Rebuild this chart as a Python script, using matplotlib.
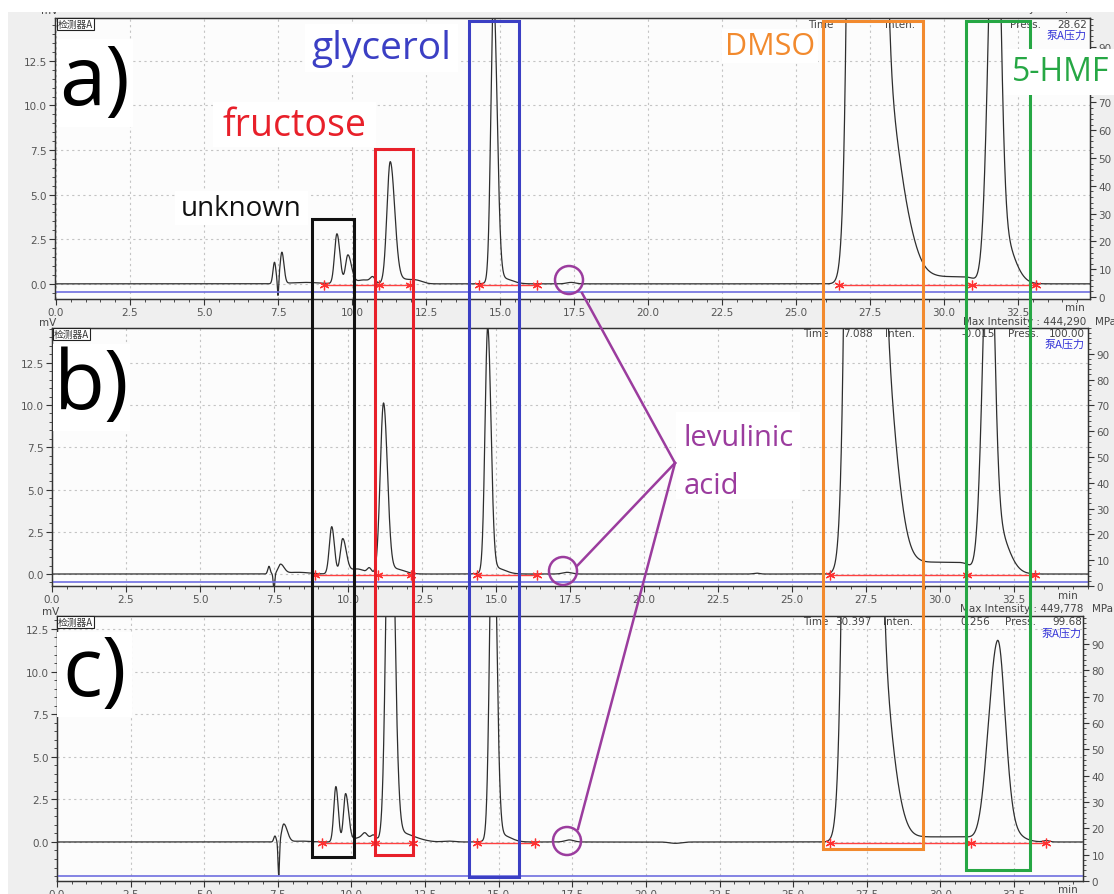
import numpy as np
import matplotlib
matplotlib.use('Agg')
import matplotlib.pyplot as plt
from matplotlib.patches import Rectangle, Circle
from matplotlib.ticker import FixedLocator, MultipleLocator

W, H = 1114, 895

# ---- data (retention time in min, signal in mV) ----
# each peak: retention time, height, left width, right width
a_rt = [7.38, 7.50, 7.63, 8.4, 9.49, 9.86, 10.4, 10.7, 11.29, 11.7, 12.2, 14.78, 15.1, 17.4,
        27.35, 27.95, 31.72, 31.9]
a_h = [1.2, -0.9, 1.75, 0.08, 2.8, 1.6, 0.22, 0.3, 6.75, 0.25, 0.15, 16.0, 0.3, 0.08,
       300.0, 11.0, 25.0, 3.0]
a_sl = [0.05, 0.02, 0.06, 0.5, 0.08, 0.08, 0.25, 0.08, 0.11, 0.3, 0.2, 0.09, 0.3, 0.15,
        0.27, 0.1, 0.21, 0.15]
a_sr = [0.05, 0.02, 0.07, 0.5, 0.1, 0.12, 0.25, 0.08, 0.15, 0.3, 0.2, 0.12, 0.3, 0.15,
        0.28, 0.58, 0.17, 0.4]
a_steps = [(28.8, 31.05, 0.4)]

b_rt = [7.33, 7.50, 7.72, 8.3, 9.45, 9.82, 10.3, 10.72, 11.2, 11.6, 14.72, 15.0, 17.4, 23.8,
        27.4, 27.95, 31.65, 31.85]
b_h = [0.45, -1.0, 0.55, 0.1, 2.8, 2.05, 0.3, 0.3, 10.0, 0.3, 14.4, 0.35, 0.1, 0.05,
       300.0, 16.0, 22.0, 3.0]
b_sl = [0.04, 0.025, 0.08, 0.4, 0.08, 0.08, 0.25, 0.07, 0.11, 0.3, 0.09, 0.3, 0.15, 0.1,
        0.27, 0.1, 0.2, 0.15]
b_sr = [0.04, 0.025, 0.12, 0.4, 0.09, 0.12, 0.25, 0.07, 0.13, 0.3, 0.11, 0.3, 0.15, 0.1,
        0.27, 0.45, 0.17, 0.4]
b_steps = [(28.5, 31.05, 0.7)]

c_rt = [7.40, 7.53, 7.70, 8.3, 9.47, 9.80, 10.4, 10.45, 10.75, 11.3, 11.7, 12.3, 13.3, 14.8, 15.1,
        17.4, 21.0, 27.31, 27.95, 31.92, 32.1, 33.6]
c_h = [0.35, -2.0, 1.05, 0.05, 3.25, 2.8, 0.3, 0.25, 0.25, 25.0, 0.5, 0.1, 0.05, 22.0, 0.4,
       0.12, -0.08, 300.0, 9.9, 11.3, 1.0, 0.08]
c_sl = [0.04, 0.025, 0.07, 0.3, 0.07, 0.07, 0.3, 0.08, 0.08, 0.12, 0.35, 0.3, 0.2, 0.1, 0.3,
        0.15, 0.2, 0.276, 0.1, 0.3, 0.15, 0.1]
c_sr = [0.04, 0.025, 0.12, 0.3, 0.08, 0.1, 0.3, 0.08, 0.08, 0.15, 0.35, 0.3, 0.2, 0.12, 0.3,
        0.15, 0.2, 0.276, 0.415, 0.26, 0.45, 0.1]
c_steps = [(28.6, 31.1, 0.3)]

# integration baselines (red) and their marks
a_marks = [9.05, 10.9, 11.96, 14.3, 16.25, 26.45, 30.95, 33.1]
b_marks = [8.89, 11.01, 12.13, 14.36, 16.39, 26.28, 30.91, 33.2]
c_marks = [9.0, 10.8, 12.09, 14.26, 16.23, 26.25, 31.04, 33.58]

# pump pressure (MPa), header texts
pressure = [1.8, 1.5, 1.9]
max_int = ['455,602', '444,290', '449,778']
time_val = ['', '7.088', '30.397']
inten_val = ['', '-0.015', '0.256']
press_val = ['28.62', '100.00', '99.68']


def trace(t, rts, hs, sls, srs, steps):
    y = np.zeros_like(t)
    for rt, h, sl, sr in zip(rts, hs, sls, srs):
        s = np.where(t < rt, sl, sr)
        y += h * np.exp(-0.5 * ((t - rt) / s) ** 2)
    for t0, t1, h in steps:
        y += h * (1 / (1 + np.exp(-(t - t0) / 0.1)) - 1 / (1 + np.exp(-(t - t1) / 0.1)))
    return y


t = np.linspace(0, 35, 14001)

# panel geometry in pixels: left, top, right, bottom
panels = [
    dict(box=(55, 19, 1090, 300), xlim=(-0.034, 34.93), ylim=(-0.85, 14.9), rlim=(-0.7, 100.4),
         peaks=(a_rt, a_h, a_sl, a_sr, a_steps), marks=a_marks, red=-0.08),
    dict(box=(52, 329, 1088, 587), xlim=(0.0, 35.0), ylim=(-0.71, 14.56), rlim=(0, 100),
         peaks=(b_rt, b_h, b_sl, b_sr, b_steps), marks=b_marks, red=-0.05),
    dict(box=(57, 617, 1083, 882), xlim=(0.0, 34.84), ylim=(-2.29, 13.26), rlim=(0, 100.7),
         peaks=(c_rt, c_h, c_sl, c_sr, c_steps), marks=c_marks, red=-0.05),
]

fig = plt.figure(figsize=(W / 100, H / 100), dpi=100)
fig.patch.set_facecolor('#efefef')

tick_col = '#555555'
for i, p in enumerate(panels):
    l, tp, r, b = p['box']
    ax = fig.add_axes([l / W, 1 - b / H, (r - l) / W, (b - tp) / H])
    ax.set_facecolor('#fcfcfc')
    y = trace(t, *p['peaks'])
    ax.plot(t, y, color='#2e2e2e', lw=0.9, zorder=3)

    # integration baselines
    m = p['marks']
    for s0, s1 in [(m[0], m[2]), (m[3], m[4]), (m[5], m[7])]:
        ax.plot([s0, s1], [p['red'], p['red']], color='#ff4040', lw=1.0, zorder=2)
    ax.plot(m, [p['red']] * len(m), ls='none', marker=(6, 2, 0), ms=7, mec='#ff3030',
            mew=0.9, zorder=4)

    ax.set_xlim(*p['xlim'])
    ax.set_ylim(*p['ylim'])
    ax.xaxis.set_major_locator(FixedLocator(np.arange(0, 32.6, 2.5)))
    ax.xaxis.set_minor_locator(MultipleLocator(0.5))
    ax.yaxis.set_major_locator(FixedLocator(np.arange(0, 12.6, 2.5)))
    ax.yaxis.set_minor_locator(MultipleLocator(0.5))
    ax.xaxis.set_major_formatter(plt.FuncFormatter(lambda v, _: f'{v:.1f}'))
    ax.yaxis.set_major_formatter(plt.FuncFormatter(lambda v, _: f'{v:.1f}'))
    ax.tick_params(which='major', length=4, width=0.8, color='#333333', labelsize=7.5,
                   labelcolor=tick_col, pad=2)
    ax.tick_params(which='minor', length=2, width=0.6, color='#333333')
    ax.grid(True, which='major', ls=(0, (2, 3)), color='#c4c4c4', lw=0.8)
    for sp in ax.spines.values():
        sp.set_color('#333333')
        sp.set_linewidth(0.9)

    rax = ax.twinx()
    rax.set_ylim(*p['rlim'])
    rax.axhline(pressure[i], color='#6f6fe0', lw=1.2, zorder=1)
    rax.yaxis.set_major_locator(FixedLocator(np.arange(0, 91, 10)))
    rax.yaxis.set_minor_locator(MultipleLocator(2))
    rax.tick_params(which='major', length=4, width=0.8, color='#333333', labelsize=7.5,
                    labelcolor=tick_col, pad=2)
    rax.tick_params(which='minor', length=2, width=0.6, color='#333333')
    for sp in rax.spines.values():
        sp.set_color('#333333')
        sp.set_linewidth(0.9)

# ---- overlay in pixel coordinates for the annotations ----
ov = fig.add_axes([0, 0, 1, 1], zorder=10)
ov.set_xlim(0, W)
ov.set_ylim(H, 0)
ov.axis('off')
ov.patch.set_alpha(0)

cjk = ['Noto Sans CJK SC', 'DejaVu Sans']
small = dict(fontsize=7.5, color='#444444', va='center')

hdr = [
    dict(mi=(1088, 9), row=25, time=(808, 843), inten=(885, 995), press=(1010, 1087), pump=36,
         mv=(50, 11), mn=(1075, 308), det=(58, 25)),
    dict(mi=(1086, 322), row=334, time=(803, 843), inten=(885, 995), press=(1008, 1085), pump=345,
         mv=(48, 323), mn=(1068, 596), det=(54, 335)),
    dict(mi=(1083, 609), row=622, time=(803, 835), inten=(883, 990), press=(1005, 1082), pump=634,
         mv=(51, 612), mn=(1068, 890), det=(58, 623)),
]
for i, h in enumerate(hdr):
    ov.text(h['mi'][0], h['mi'][1], 'Max Intensity : ' + max_int[i], ha='right', **small)
    ov.text(h['mi'][0] + 9, h['mi'][1], 'MPa', ha='left', **small)
    ov.text(h['time'][0], h['row'], 'Time', ha='left', **small)
    ov.text(h['time'][1], h['row'], time_val[i], ha='left', **small)
    ov.text(h['inten'][0], h['row'], 'Inten.', ha='left', **small)
    ov.text(h['inten'][1], h['row'], inten_val[i], ha='right', **small)
    ov.text(h['press'][0], h['row'], 'Press.', ha='left', **small)
    ov.text(h['press'][1], h['row'], press_val[i], ha='right', **small)
    ov.text(h['press'][1], h['pump'], '泵A压力', ha='right', va='center', fontsize=8,
            color='#3535d8', family=cjk)
    ov.text(h['mv'][0], h['mv'][1], 'mV', ha='center', **small)
    ov.text(h['mn'][0], h['mn'][1], 'min', ha='center', **small)
    ov.text(h['det'][0], h['det'][1], '检测器A', ha='left', va='center', fontsize=7,
            color='#333333', family=cjk,
            bbox=dict(boxstyle='square,pad=0.1', fc='white', ec='#222222', lw=0.8))

# white strips at the screenshot edges
ov.add_patch(Rectangle((0, 0), W, 13, fc='white', ec='none', zorder=5))
ov.add_patch(Rectangle((0, 0), 8, H, fc='white', ec='none', zorder=5))

# compound boxes (left, top, right, bottom)
boxes = [((312, 220, 354, 858), '#111111'),
         ((375, 150, 413, 856), '#e8202a'),
         ((469, 22, 519, 878), '#3b3fc4'),
         ((823, 22, 923, 850), '#f28a2e'),
         ((966, 22, 1030, 871), '#26a744')]
for (l, tp, r, b), col in boxes:
    ov.add_patch(Rectangle((l, tp), r - l, b - tp, fill=False, ec=col, lw=2.2, zorder=6))

lab = 'Open Sans'
# panel letters
for (l, tp, r, b), txt, cy in [((57, 40, 133, 128), 'a)', 84),
                               ((53, 345, 130, 432), 'b)', 388),
                               ((57, 633, 132, 718), 'c)', 675)]:
    ov.add_patch(Rectangle((l, tp), r - l, b - tp, fc='white', ec='none', zorder=7))
    ov.text((l + r) / 2, cy, txt, ha='center', va='center', fontsize=60, family=lab,
            color='black', zorder=8)

# compound labels
labels = [((305, 25, 458, 73), 'glycerol', '#3b3fc4', 28),
          ((213, 103, 376, 148), 'fructose', '#e8202a', 27),
          ((175, 192, 308, 226), 'unknown', '#111111', 20),
          ((722, 30, 818, 64), 'DMSO', '#f28a2e', 22)]
for (l, tp, r, b), txt, col, fs in labels:
    ov.add_patch(Rectangle((l, tp), r - l, b - tp, fc='white', ec='none', zorder=7))
    ov.text((l + r) / 2, (tp + b) / 2, txt, ha='center', va='center', fontsize=fs,
            family=lab, color=col, zorder=8)

ov.add_patch(Rectangle((1004, 50), W - 1004, 46, fc='white', ec='none', zorder=7))
ov.text(1012, 72, '5-HMF', ha='left', va='center', fontsize=23, family=lab,
        color='#26a744', zorder=8, clip_on=False)

purple = '#9b3c9e'
ov.add_patch(Rectangle((676, 413), 124, 87, fc='white', ec='none', zorder=7))
ov.text(684, 439, 'levulinic', ha='left', va='center', fontsize=21, family=lab,
        color=purple, zorder=8)
ov.text(684, 487, 'acid', ha='left', va='center', fontsize=21, family=lab,
        color=purple, zorder=8)

for cx, cy in [(569, 281), (563, 572), (567, 842)]:
    ov.add_patch(Circle((cx, cy), 14, fill=False, ec=purple, lw=1.8, zorder=8))
apex = (675, 464)
for end in [(582, 294), (577, 567), (578, 830)]:
    ov.plot([apex[0], end[0]], [apex[1], end[1]], color=purple, lw=1.8, zorder=8)

fig.savefig('out.png', dpi=100, facecolor=fig.get_facecolor())
